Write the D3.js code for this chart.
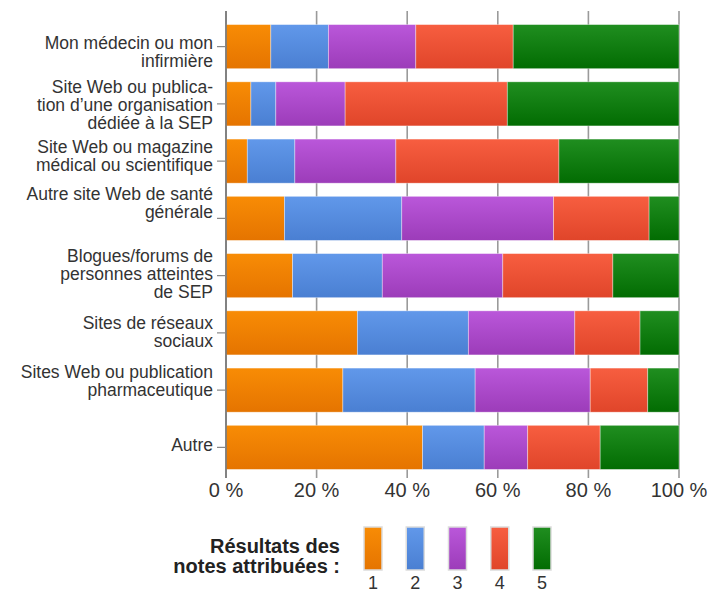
<!DOCTYPE html>
<html>
<head>
<meta charset="utf-8">
<script src="https://cdn.jsdelivr.net/npm/d3@7"></script>
<style>
  html, body { margin: 0; padding: 0; background: #fff; }
  svg { display: block; }
  text { font-family: "Liberation Sans", Arial, sans-serif; }
</style>
</head>
<body>
<svg id="chart" width="708" height="594"></svg>
<script>
// Sources of information, each row split across rating scores 1..5 (percent)
const categories = [
  ["Mon médecin ou mon", "infirmière"],
  ["Site Web ou publica-", "tion d’une organisation", "dédiée à la SEP"],
  ["Site Web ou magazine", "médical ou scientifique"],
  ["Autre site Web de santé", "générale"],
  ["Blogues/forums de", "personnes atteintes", "de SEP"],
  ["Sites de réseaux", "sociaux"],
  ["Sites Web ou publication", "pharmaceutique"],
  ["Autre"]
];
const score1 = [9.9, 5.5, 4.7, 12.9, 14.7, 29.0, 25.8, 43.4];
const score2 = [12.7, 5.5, 10.5, 25.9, 19.8, 24.5, 29.2, 13.6];
const score3 = [19.3, 15.3, 22.3, 33.5, 26.6, 23.5, 25.4, 9.6];
const score4 = [21.5, 35.8, 36.0, 21.1, 24.3, 14.4, 12.7, 16.0];
const score5 = [36.6, 37.9, 26.5, 6.6, 14.6, 8.6, 6.9, 17.4];
const scoreLabels = ["1", "2", "3", "4", "5"];
const xTicks = [0, 20, 40, 60, 80, 100];
const legendTitle = ["Résultats des", "notes attribuées :"];

const series = [score1, score2, score3, score4, score5];
const palette = [
  ["#f88c05", "#e57400"],
  ["#6198ea", "#4a7fd2"],
  ["#ba57da", "#9c3cb9"],
  ["#f75e40", "#e0452a"],
  ["#208e20", "#026c02"]
];

const svg = d3.select("#chart");

// Vertical gradient per score colour
const defs = svg.append("defs");
palette.forEach((c, i) => {
  const g = defs.append("linearGradient")
    .attr("id", "grad" + i).attr("x1", 0).attr("y1", 0).attr("x2", 0).attr("y2", 1);
  g.append("stop").attr("offset", "0%").attr("stop-color", c[0]);
  g.append("stop").attr("offset", "100%").attr("stop-color", c[1]);
});

const plotLeft = 226, plotRight = 679, plotTop = 18, plotBottom = 476;
const x = d3.scaleLinear().domain([0, 100]).range([plotLeft, plotRight]);
const y = d3.scaleBand().domain(d3.range(categories.length)).range([plotTop, plotBottom])
  .paddingInner(0.23).paddingOuter(0.115);

// Grid lines
svg.append("g").selectAll("line").data(xTicks).join("line")
  .attr("x1", d => x(d)).attr("x2", d => x(d))
  .attr("y1", 11).attr("y2", 478)
  .attr("stroke", "#9a9a9a").attr("stroke-width", 1.6);

// Stacked segments
const rows = categories.map((c, i) => {
  let acc = 0;
  return series.map((s, k) => {
    const seg = { row: i, k, x0: acc, x1: acc + s[i] };
    acc += s[i];
    return seg;
  });
}).flat();

svg.append("g").selectAll("rect").data(rows).join("rect")
  .attr("x", d => x(d.x0))
  .attr("y", d => y(d.row))
  .attr("width", d => Math.max(0, x(Math.min(100, d.x1)) - x(d.x0)))
  .attr("height", y.bandwidth())
  .attr("fill", d => `url(#grad${d.k})`)
  .attr("stroke", "rgba(255,255,255,0.45)")
  .attr("stroke-width", 0.8);

// Left axis line and tick marks
svg.append("line")
  .attr("x1", plotLeft).attr("x2", plotLeft).attr("y1", 11).attr("y2", 478)
  .attr("stroke", "#777").attr("stroke-width", 1.6);
svg.append("g").selectAll("line").data(categories).join("line")
  .attr("x1", plotLeft - 9).attr("x2", plotLeft)
  .attr("y1", (d, i) => y(i) + y.bandwidth() / 2)
  .attr("y2", (d, i) => y(i) + y.bandwidth() / 2)
  .attr("stroke", "#888").attr("stroke-width", 1.2);

// Category labels (multi-line, right aligned); first-line baseline relative to the row centre
const lineH = 18;
const firstLineShift = [2, -11, -8, -18, -13.3, -3.5, -12, 4];
svg.append("g").selectAll("text").data(categories).join("text")
  .attr("text-anchor", "end")
  .attr("font-size", 17.5)
  .attr("fill", "#333")
  .each(function (lines, i) {
    const cy = y(i) + y.bandwidth() / 2;
    const t = d3.select(this);
    lines.forEach((l, j) => {
      t.append("tspan").attr("x", 213).attr("y", cy + firstLineShift[i] + j * lineH).text(l);
    });
  });

// X axis tick labels
svg.append("g").selectAll("text").data(xTicks).join("text")
  .attr("x", d => x(d)).attr("y", 497)
  .attr("text-anchor", "middle")
  .attr("font-size", 20)
  .attr("fill", "#333")
  .text(d => d + " %");

// Legend
const lg = svg.append("g");
lg.selectAll("text.title").data(legendTitle).join("text")
  .attr("class", "title")
  .attr("x", 340).attr("y", (d, i) => 553 + i * 20)
  .attr("text-anchor", "end")
  .attr("font-size", 20).attr("font-weight", "bold")
  .attr("fill", "#222")
  .text(d => d);

const lx = d3.scalePoint().domain(scoreLabels).range([373, 542]);
lg.selectAll("rect").data(scoreLabels).join("rect")
  .attr("x", d => lx(d) - 9).attr("y", 527)
  .attr("width", 18).attr("height", 43)
  .attr("fill", (d, i) => `url(#grad${i})`)
  .attr("stroke", "#dcdcdc").attr("stroke-width", 1.5);
lg.selectAll("text.num").data(scoreLabels).join("text")
  .attr("class", "num")
  .attr("x", d => lx(d)).attr("y", 589)
  .attr("text-anchor", "middle")
  .attr("font-size", 18)
  .attr("fill", "#333")
  .text(d => d);
</script>
</body>
</html>
